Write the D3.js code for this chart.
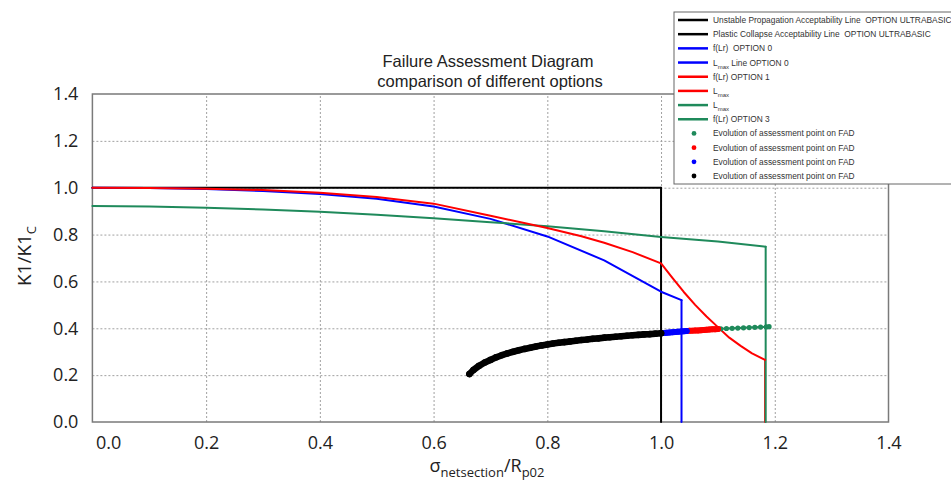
<!DOCTYPE html>
<html><head><meta charset="utf-8">
<script src="https://cdn.jsdelivr.net/npm/d3@7"></script>
<style>body{margin:0;background:#fff}svg{display:block}</style>
</head><body><svg id="c" width="951" height="489"></svg>
<script>
// ---------- data ----------
const xTickValues = [0, 0.2, 0.4, 0.6, 0.8, 1.0, 1.2, 1.4];
const yTickValues = [0, 0.2, 0.4, 0.6, 0.8, 1.0, 1.2, 1.4];
const gridValues  = [0.2, 0.4, 0.6, 0.8, 1.0, 1.2];

// Ultrabasic acceptability lines
const unstableLr = [0, 1.0];
const unstableK  = [1.0, 1.0];
const plasticLr  = [1.0, 1.0];
const plasticK   = [1.0, 0];

// Option 0 (blue)
const opt0Lr = [0, 0.1, 0.2, 0.3, 0.4, 0.5, 0.6, 0.7, 0.8, 0.9, 1.0, 1.036];
const opt0K  = [1.0, 0.999, 0.994, 0.986, 0.973, 0.953, 0.92, 0.867, 0.792, 0.69, 0.556, 0.52];
const opt0MaxLr = [1.036, 1.036];
const opt0MaxK  = [0.52, 0];

// Option 1 (red)
const opt1Lr = [0, 0.1, 0.2, 0.3, 0.4, 0.5, 0.6, 0.7, 0.8, 0.86, 0.9, 0.95, 1.0, 1.02, 1.04, 1.06, 1.08, 1.1, 1.12, 1.14, 1.16, 1.183];
const opt1K  = [1.0, 0.999, 0.996, 0.99, 0.978, 0.96, 0.932, 0.88, 0.828, 0.793, 0.765, 0.725, 0.677, 0.615, 0.555, 0.50, 0.45, 0.405, 0.36, 0.325, 0.293, 0.265];
const opt1MaxLr = [1.183, 1.183];
const opt1MaxK  = [0.265, 0];

// Option 3 (green)
const opt3Lr = [0, 0.1, 0.2, 0.3, 0.4, 0.5, 0.6, 0.7, 0.8, 0.9, 1.0, 1.1, 1.184];
const opt3K  = [0.922, 0.92, 0.915, 0.907, 0.897, 0.885, 0.87, 0.853, 0.835, 0.814, 0.79, 0.77, 0.748];
const opt3MaxLr = [1.184, 1.184];
const opt3MaxK  = [0.748, 0];

// Evolution of assessment point
const ptBlackLr = [0.663, 0.67, 0.68, 0.69, 0.70, 0.71, 0.72, 0.73, 0.74, 0.75, 0.76, 0.77, 0.78, 0.79, 0.80, 0.81, 0.82, 0.83, 0.84, 0.85, 0.86, 0.87, 0.88, 0.89, 0.90, 0.91, 0.92, 0.93, 0.94, 0.95, 0.96, 0.97, 0.98, 0.99, 1.0];
const ptBlackK  = [0.205, 0.222, 0.240, 0.254, 0.265, 0.276, 0.285, 0.293, 0.300, 0.306, 0.312, 0.317, 0.322, 0.327, 0.331, 0.335, 0.338, 0.341, 0.344, 0.347, 0.350, 0.352, 0.355, 0.357, 0.360, 0.362, 0.364, 0.366, 0.368, 0.370, 0.372, 0.374, 0.375, 0.377, 0.379];
const ptBlueLr = [1.005, 1.01, 1.015, 1.02, 1.025, 1.03, 1.035, 1.04, 1.045];
const ptBlueK  = [0.380, 0.381, 0.382, 0.383, 0.384, 0.385, 0.386, 0.387, 0.388];
const ptRedLr = [1.05, 1.055, 1.06, 1.065, 1.07, 1.075, 1.08, 1.085, 1.09, 1.095, 1.10];
const ptRedK  = [0.389, 0.390, 0.391, 0.391, 0.392, 0.393, 0.394, 0.395, 0.396, 0.396, 0.397];
const ptGreenLr = [1.105, 1.115, 1.125, 1.135, 1.145, 1.155, 1.165, 1.175, 1.185, 1.19];
const ptGreenK  = [0.398, 0.399, 0.400, 0.401, 0.402, 0.403, 0.404, 0.405, 0.406, 0.407];

const SP = "\u00a0\u00a0";
const legendItems = [
  {type:"line", color:"#000", text:["Unstable Propagation Acceptability Line" + SP + "OPTION ULTRABASIC"]},
  {type:"line", color:"#000", text:["Plastic Collapse Acceptability Line" + SP + "OPTION ULTRABASIC"]},
  {type:"line", color:"#0000ff", text:["f(Lr)\u00a0\u00a0OPTION 0"]},
  {type:"line", color:"#0000ff", text:["L", "max", " Line OPTION 0"]},
  {type:"line", color:"#ff0000", text:["f(Lr) OPTION 1"]},
  {type:"line", color:"#ff0000", text:["L", "max", ""]},
  {type:"line", color:"#1f8a5b", text:["L", "max", ""]},
  {type:"line", color:"#1f8a5b", text:["f(Lr) OPTION 3"]},
  {type:"dot", color:"#1f8a5b", text:["Evolution of assessment point on FAD"]},
  {type:"dot", color:"#ff0000", text:["Evolution of assessment point on FAD"]},
  {type:"dot", color:"#0000ff", text:["Evolution of assessment point on FAD"]},
  {type:"dot", color:"#000", text:["Evolution of assessment point on FAD"]}
];

// ---------- drawing ----------
const BLACK = "#000", BLUE = "#0000ff", RED = "#ff0000", GREEN = "#1f8a5b";
const svg = d3.select("#c");
const x = d3.scaleLinear().domain([0, 1.4]).range([92.4, 888.5]);
const y = d3.scaleLinear().domain([0, 1.4]).range([422, 94]);
const zip = (a, b) => a.map((v, i) => [v, b[i]]);

// grid
svg.append("g").attr("transform", `translate(0,${y(0)})`)
  .call(d3.axisBottom(x).tickValues(gridValues).tickSize(-(y(0) - y(1.4))).tickFormat(""))
  .call(g => g.select(".domain").remove())
  .selectAll("line").attr("stroke", "#a0a0a0").attr("stroke-width", 1).attr("stroke-dasharray", "2,2");
svg.append("g").attr("transform", `translate(${x(0)},0)`)
  .call(d3.axisLeft(y).tickValues(gridValues).tickSize(-(x(1.4) - x(0))).tickFormat(""))
  .call(g => g.select(".domain").remove())
  .selectAll("line").attr("stroke", "#a0a0a0").attr("stroke-width", 1).attr("stroke-dasharray", "2,2");

// frame
svg.append("rect").attr("x", x(0)).attr("y", y(1.4))
  .attr("width", x(1.4) - x(0)).attr("height", y(0) - y(1.4))
  .attr("fill", "none").attr("stroke", "#7a7a7a").attr("stroke-width", 1.5);

// tick labels
const xAx = svg.append("g").attr("transform", `translate(0,${y(0)})`)
  .call(d3.axisBottom(x).tickValues(xTickValues).tickSize(0).tickPadding(14).tickFormat(d3.format(".1f")));
xAx.select(".domain").remove();
xAx.selectAll("text").attr("font-family", "'Open Sans', sans-serif").attr("font-size", 18).attr("fill", "#222");
xAx.selectAll("text").filter(d => d === 0).attr("text-anchor", "start").attr("dx", 3);

const yAx = svg.append("g").attr("transform", `translate(${x(0)},0)`)
  .call(d3.axisLeft(y).tickValues(yTickValues).tickSize(0).tickPadding(14).tickFormat(d3.format(".1f")));
yAx.select(".domain").remove();
yAx.selectAll("text").attr("font-family", "'Open Sans', sans-serif").attr("font-size", 18).attr("fill", "#222");

// axis titles
const yt = svg.append("text").attr("transform", "translate(31,256) rotate(-90)")
  .attr("text-anchor", "middle").attr("font-family", "'Open Sans', sans-serif").attr("font-size", 19).attr("fill", "#222");
yt.append("tspan").text("K1/K1");
yt.append("tspan").text("C").attr("font-size", 13).attr("dy", 5);

const xt = svg.append("text").attr("x", 487).attr("y", 472)
  .attr("text-anchor", "middle").attr("font-family", "'Open Sans', sans-serif").attr("font-size", 18).attr("fill", "#222");
xt.append("tspan").text("σ");
xt.append("tspan").text("netsection").attr("font-size", 13).attr("dy", 5);
xt.append("tspan").text("/R").attr("dy", -5);
xt.append("tspan").text("p02").attr("font-size", 13).attr("dy", 5);

// title
svg.append("text").attr("x", 488).attr("y", 67).attr("text-anchor", "middle")
  .attr("font-family", "'Liberation Sans', Arial, sans-serif").attr("font-size", 16.5).attr("fill", "#222")
  .text("Failure Assessment Diagram");
svg.append("text").attr("x", 490).attr("y", 87).attr("text-anchor", "middle")
  .attr("font-family", "'Liberation Sans', Arial, sans-serif").attr("font-size", 16.5).attr("fill", "#222")
  .text("comparison of different options");

// curves
const line = d3.line().x(d => x(d[0])).y(d => y(d[1]));
const plot = (lr, k, color, w) => svg.append("path").datum(zip(lr, k))
  .attr("d", line).attr("fill", "none").attr("stroke", color).attr("stroke-width", w)
  .attr("stroke-linejoin", "round").attr("stroke-linecap", "round");
plot(unstableLr, unstableK, BLACK, 2);
plot(plasticLr, plasticK, BLACK, 2);
plot(opt0Lr, opt0K, BLUE, 2);
plot(opt0MaxLr, opt0MaxK, BLUE, 2);
plot(opt1MaxLr, opt1MaxK, RED, 2);
plot(opt3Lr, opt3K, GREEN, 2);
plot(opt3MaxLr, opt3MaxK, GREEN, 2);
plot(opt1Lr, opt1K, RED, 2);

// assessment points (dense markers: drawn as a band plus markers)
const dots = (lr, k, color, r, band) => {
  plot(lr, k, color, band);
  svg.append("g").selectAll("circle").data(zip(lr, k)).join("circle")
    .attr("cx", d => x(d[0])).attr("cy", d => y(d[1])).attr("r", r).attr("fill", color);
};
dots(ptGreenLr, ptGreenK, GREEN, 2.6, 2);
dots(ptRedLr, ptRedK, RED, 3, 6);
dots(ptBlueLr, ptBlueK, BLUE, 3, 6);
dots(ptBlackLr, ptBlackK, BLACK, 3.3, 6.6);

// legend
const lg = svg.append("g");
lg.append("rect").attr("x", 674).attr("y", 12).attr("width", 290).attr("height", 172)
  .attr("fill", "#fff").attr("stroke", "#666").attr("stroke-width", 1);
const rowY = d3.scalePoint().domain(d3.range(legendItems.length)).range([20, 176]);
legendItems.forEach((it, i) => {
  const cy = rowY(i);
  if (it.type === "line") {
    lg.append("line").attr("x1", 678).attr("x2", 708).attr("y1", cy).attr("y2", cy)
      .attr("stroke", it.color).attr("stroke-width", 2.5);
  } else {
    lg.append("circle").attr("cx", 694).attr("cy", cy).attr("r", 2.4).attr("fill", it.color);
  }
  const t = lg.append("text").attr("x", 713).attr("y", cy + 3)
    .attr("font-family", "'Liberation Sans', Arial, sans-serif").attr("font-size", 8.4).attr("fill", "#333");
  t.append("tspan").text(it.text[0]);
  if (it.text.length > 1) {
    t.append("tspan").text(it.text[1]).attr("font-size", 6).attr("dy", 3);
    t.append("tspan").text(it.text[2]).attr("dy", -3);
  }
});
</script></body></html>
